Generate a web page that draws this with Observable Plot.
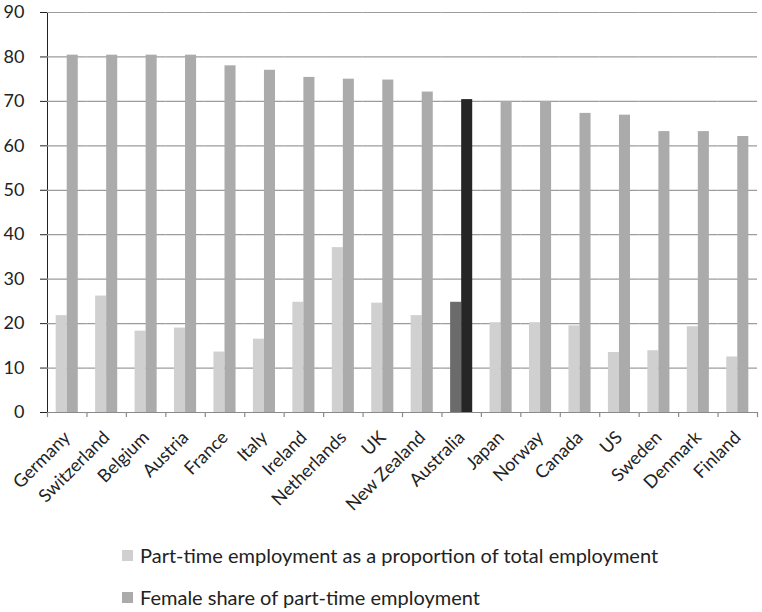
<!DOCTYPE html>
<html>
<head>
<meta charset="utf-8">
<script src="https://cdn.jsdelivr.net/npm/d3@7"></script>
<script src="https://cdn.jsdelivr.net/npm/@observablehq/plot@0.6"></script>
<style>
  html, body { margin: 0; padding: 0; background: #fff; }
  #chart { width: 762px; }
  .legend { font-family: Lato, "Open Sans", sans-serif; font-size: 20px; color: #222; padding-left: 122px; margin-top: 19px; }
  .legend .row { display: flex; align-items: center; height: 42px; }
  .legend .sw { width: 11px; height: 11px; margin-right: 7px; flex: none; }
</style>
</head>
<body>
<div id="chart"></div>
<script>
const countries = ["Germany","Switzerland","Belgium","Austria","France","Italy","Ireland","Netherlands","UK","New Zealand","Australia","Japan","Norway","Canada","US","Sweden","Denmark","Finland"];
const partTime    = [21.8, 26.2, 18.3, 19.0, 13.6, 16.5, 24.8, 37.1, 24.6, 21.8, 24.8, 20.2, 20.2, 19.5, 13.5, 13.9, 19.3, 12.5];
const femaleShare = [80.4, 80.4, 80.4, 80.4, 78.0, 77.0, 75.4, 75.0, 74.8, 72.1, 70.4, 70.0, 70.0, 67.3, 66.9, 63.2, 63.2, 62.1];
const seriesNames = ["Part-time employment as a proportion of total employment", "Female share of part-time employment"];
const yTicks = [0, 10, 20, 30, 40, 50, 60, 70, 80, 90];
const highlight = "Australia";

const colors = {
  normal: ["#d0d0d0", "#ababab"],
  highlight: ["#6b6b6b", "#262626"]
};

const rows = [];
countries.forEach((c, i) => {
  rows.push({country: c, series: "pt", value: partTime[i], fill: (c === highlight ? colors.highlight : colors.normal)[0]});
  rows.push({country: c, series: "fs", value: femaleShare[i], fill: (c === highlight ? colors.highlight : colors.normal)[1]});
});

const W = 762, H = 515, mL = 47, mR = 5, mT = 12, mB = 103;
const po = 0.786;
const step = (W - mL - mR) / countries.length;
const bw = step / (2 + 2 * po);
const edge = po * bw + bw / 2; // distance from a bar centre to its facet edge

const chart = Plot.plot({
  width: W, height: H,
  marginLeft: mL, marginRight: mR, marginTop: mT, marginBottom: mB,
  style: {fontFamily: "Lato, 'Open Sans', sans-serif", fontSize: "18px", color: "#222", background: "#fff"},
  fx: {domain: countries, padding: 0, round: false, axis: "bottom", tickRotate: -45, tickSize: 0, tickPadding: 22, label: null},
  x: {domain: ["pt", "fs"], paddingInner: 0, paddingOuter: po, round: false, axis: null},
  y: {domain: [0, 90], ticks: yTicks, tickSize: 7, tickPadding: 16, label: null, line: true},
  color: {type: "identity"},
  marks: [
    Plot.ruleY(yTicks.filter(d => d > 0), {stroke: "#9c9c9c", strokeWidth: 1.2}),
    Plot.barY(rows, {fx: "country", x: "series", y: "value", fill: "fill"}),
    Plot.ruleY([0], {stroke: "#8a8a8a", strokeWidth: 1.2}),
    Plot.ruleX(countries, {fx: d => d, x: () => "pt", dx: -edge, y1: 0, y2: -1.15, stroke: "#8a8a8a", strokeWidth: 1.2}),
    Plot.ruleX(countries.slice(-1), {fx: d => d, x: () => "fs", dx: edge, y1: 0, y2: -1.15, stroke: "#8a8a8a", strokeWidth: 1.2})
  ]
});
document.getElementById("chart").appendChild(chart);

const legend = document.createElement("div");
legend.className = "legend";
seriesNames.forEach((name, i) => {
  const row = document.createElement("div");
  row.className = "row";
  const sw = document.createElement("span");
  sw.className = "sw";
  sw.style.background = colors.normal[i];
  const t = document.createElement("span");
  t.textContent = name;
  row.appendChild(sw); row.appendChild(t);
  legend.appendChild(row);
});
document.body.appendChild(legend);
</script>
</body>
</html>
